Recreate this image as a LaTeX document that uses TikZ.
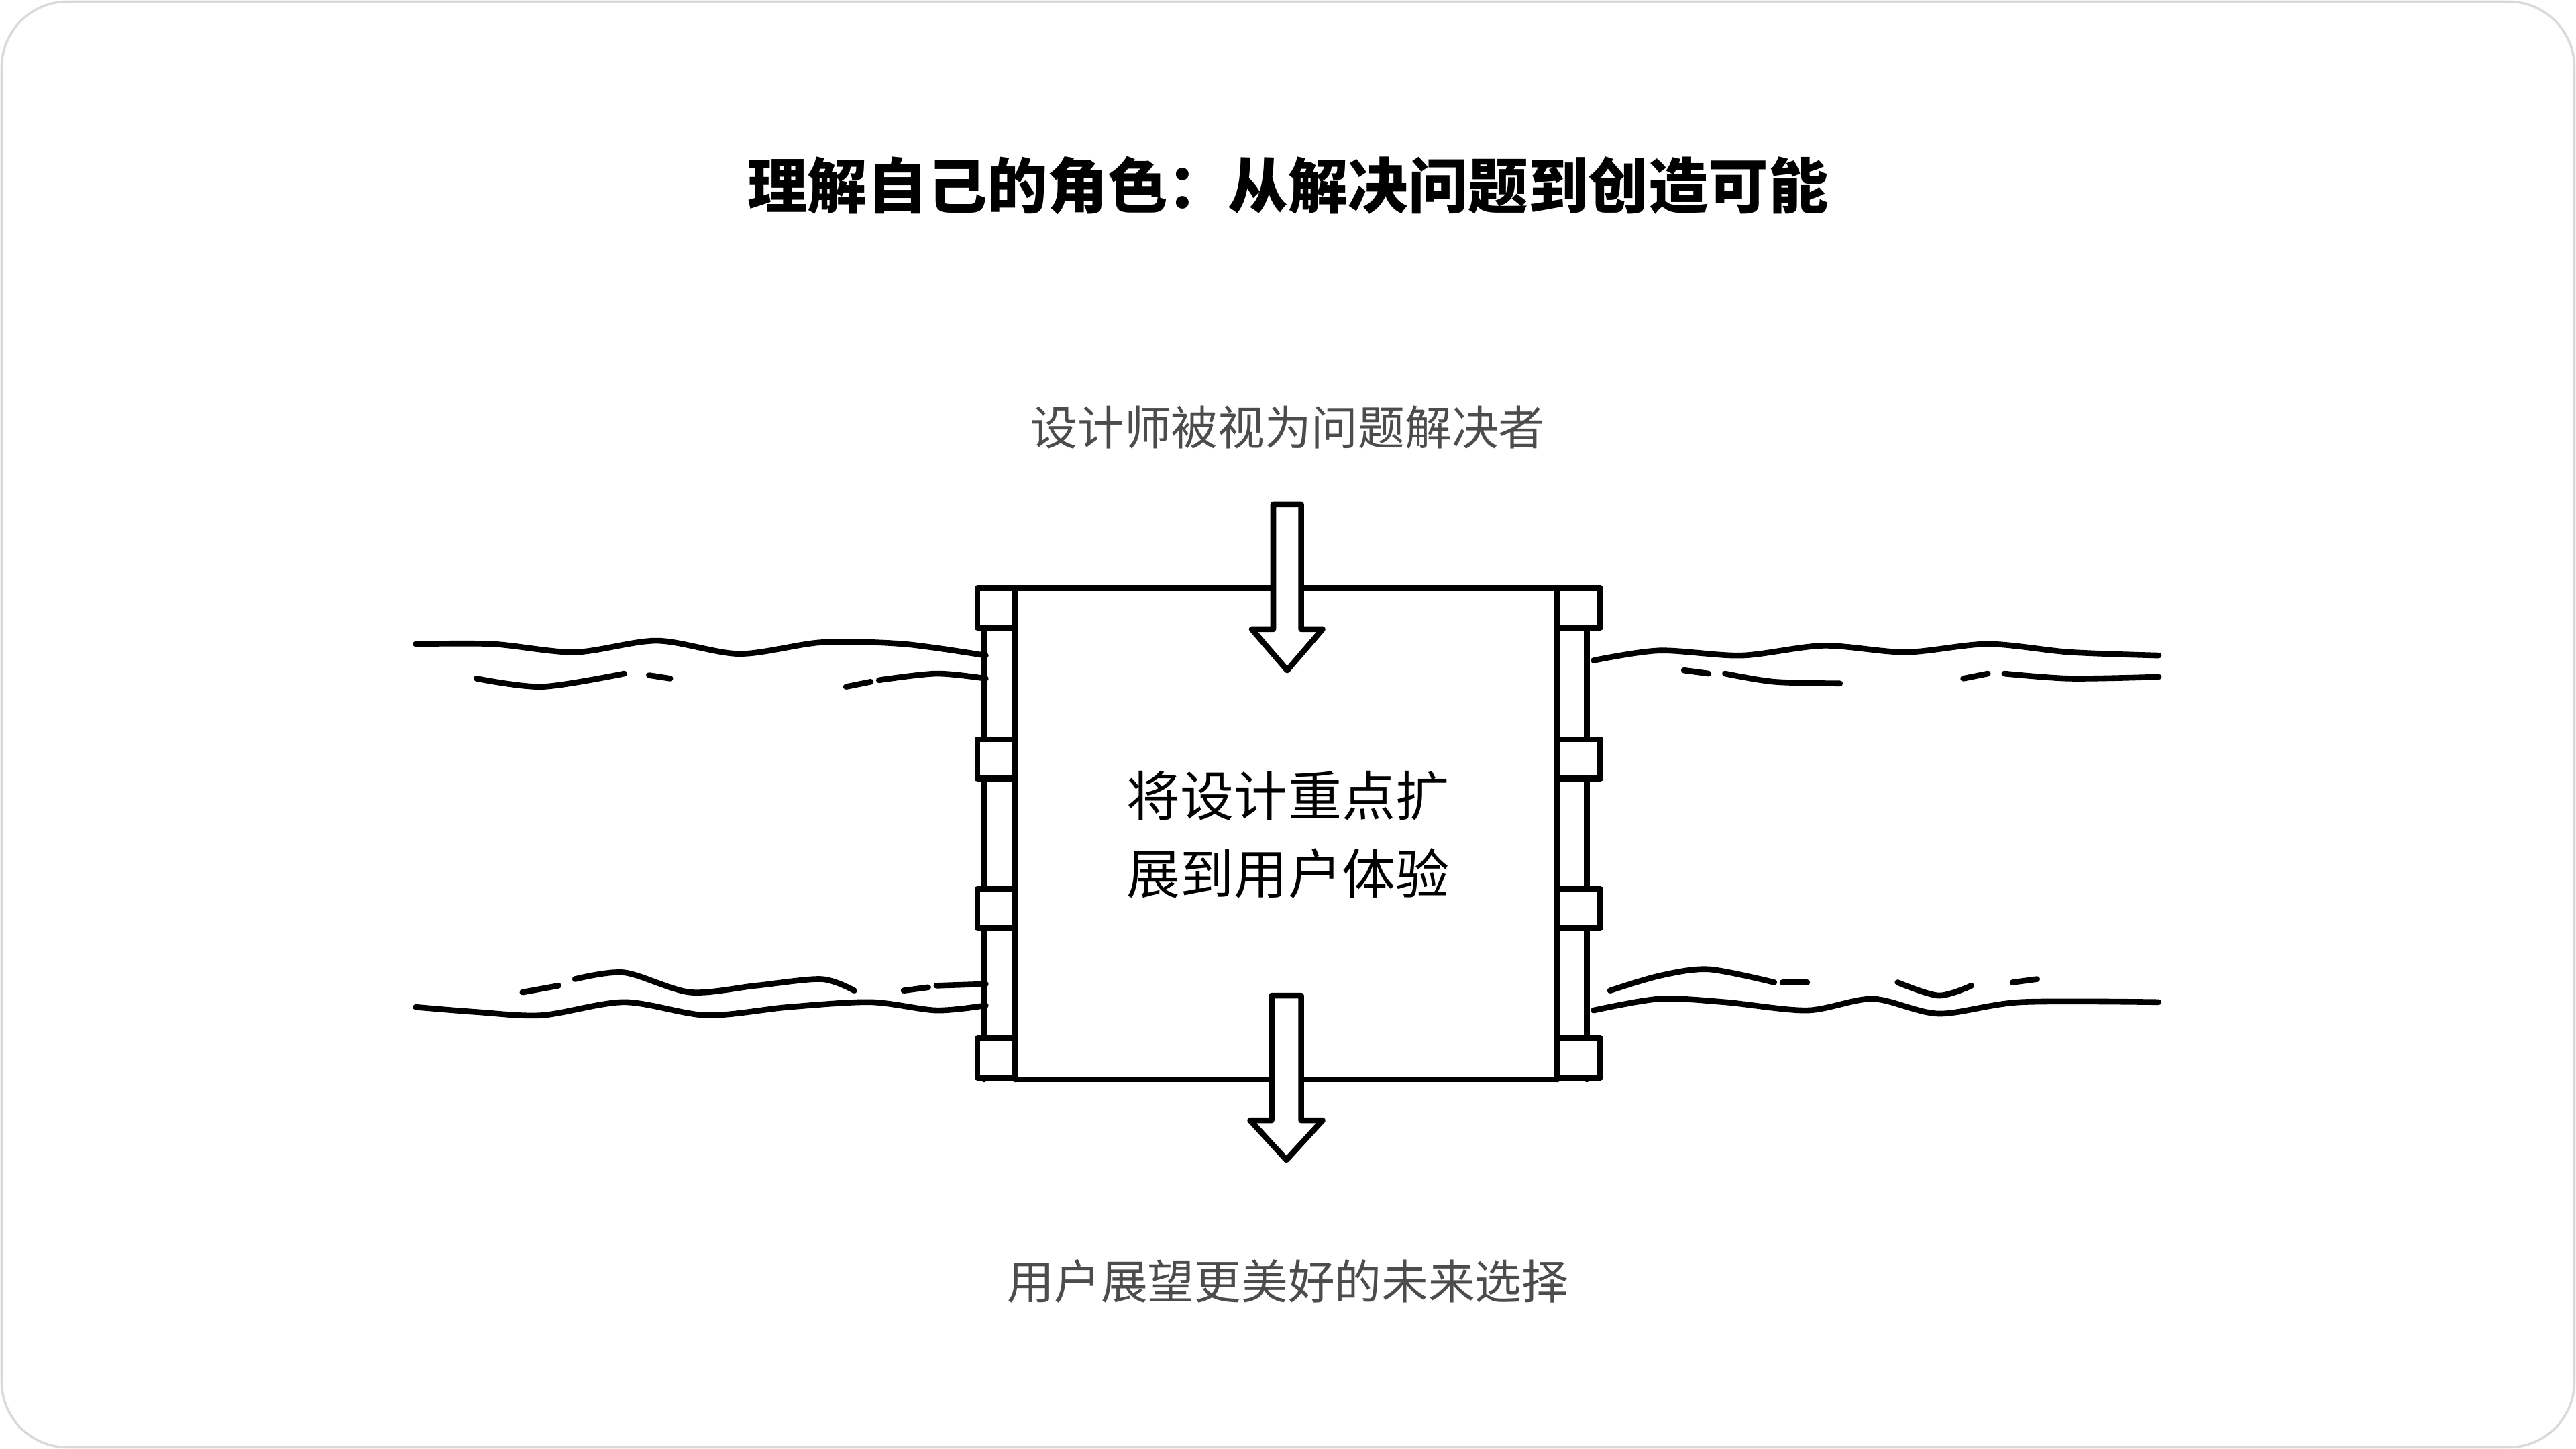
\documentclass[tikz,border=0pt]{standalone}
\usepackage{fontspec}
\setmainfont{Noto Sans CJK SC}
\begin{document}
\begin{tikzpicture}[x=1mm,y=-1mm,
  ln/.style={line width=1pt,line cap=round,line join=round},
  post/.style={ln,fill=white},
  arr/.style={ln,fill=white}]
\useasboundingbox (0,0) rectangle (156.8,88.2);
\draw[gray!30,line width=0.4pt,rounded corners=4mm] (0.1,0.1) rectangle (156.7,88.1);
\node[font=\bfseries\fontsize{10.4pt}{12pt}\selectfont] (title) at (78.4,11.3) {理解自己的角色：从解决问题到创造可能};
\node[text=black!70,font=\fontsize{8.1pt}{9pt}\selectfont] (top) at (78.4,26) {设计师被视为问题解决者};
\node[text=black!70,font=\fontsize{8.1pt}{9pt}\selectfont] (bot) at (78.4,78) {用户展望更美好的未来选择};
% rivers left
\draw[ln] plot[smooth] coordinates {(25.3,39.2)(30,39.2)(35,39.7)(40,39.0)(45,39.8)(50,39.1)(55,39.2)(60,39.9)};
\draw[ln] plot[smooth] coordinates {(29,41.3)(33,41.8)(38,41.0)};
\draw[ln] (39.5,41.1)--(40.8,41.3);
\draw[ln] (51.5,41.8)--(53,41.5);
\draw[ln] plot[smooth] coordinates {(53.5,41.4)(57,41.0)(60,41.3)};
\draw[ln] (31.8,60.4)--(34,60.0);
\draw[ln] plot[smooth] coordinates {(35,59.6)(38,59.2)(42,60.4)(46,60.0)(50,59.6)(52,60.3)};
\draw[ln] (55,60.3)--(56.5,60.1);
\draw[ln] plot[smooth] coordinates {(57,60.0)(60,59.9)};
\draw[ln] plot[smooth] coordinates {(25.3,61.3)(29,61.6)(33,61.8)(38,61.0)(43,61.8)(48,61.3)(53,61.0)(57,61.5)(60,61.2)};
% rivers right
\draw[ln] plot[smooth] coordinates {(97,40.2)(101,39.6)(106,39.9)(111,39.3)(116,39.7)(121,39.2)(126,39.7)(131.4,39.9)};
\draw[ln] (102.5,40.8)--(104,41.0);
\draw[ln] plot[smooth] coordinates {(105,41.0)(108,41.5)(112,41.6)};
\draw[ln] (119.5,41.3)--(121,41.0);
\draw[ln] plot[smooth] coordinates {(122,41.0)(126,41.3)(131.4,41.2)};
\draw[ln] plot[smooth] coordinates {(98,60.3)(101,59.4)(104,59.0)(108,59.8)};
\draw[ln] (108.5,59.8)--(110,59.8);
\draw[ln] plot[smooth] coordinates {(115.5,59.8)(118,60.6)(120,60.0)};
\draw[ln] (122.5,59.8)--(124,59.6);
\draw[ln] plot[smooth] coordinates {(97,61.5)(101,60.8)(105,61.0)(110,61.5)(114,60.8)(118,61.7)(123,61.0)(131.4,61.0)};
% box
\draw[ln,fill=white] (61.8,35.8) rectangle (94.8,65.7);
\node (box) at (78.3,50.7) {};
% posts left
\draw[ln] (59.9,35.8)--(59.9,65.7) (61.8,35.8)--(61.8,65.7);
\foreach \y in {35.8,45.0,54.1,63.2}{\draw[post] (59.5,\y) rectangle (61.8,\y+2.4);}
% posts right
\draw[ln] (96.6,35.8)--(96.6,65.7) (94.8,35.8)--(94.8,65.7);
\foreach \y in {35.8,45.0,54.1,63.2}{\draw[post] (94.8,\y) rectangle (97.4,\y+2.4);}
\node[align=center,font=\fontsize{9.3pt}{13.5pt}\selectfont] (mid) at (78.4,50.8) {将设计重点扩\\展到用户体验};
% arrows
\draw[arr] (77.5,30.7)--(79.2,30.7)--(79.2,38.3)--(80.5,38.3)--(78.35,40.8)--(76.2,38.3)--(77.5,38.3)--cycle;
\draw[arr] (77.4,60.6)--(79.2,60.6)--(79.2,68.2)--(80.5,68.2)--(78.3,70.6)--(76.1,68.2)--(77.4,68.2)--cycle;
\end{tikzpicture}
\end{document}
